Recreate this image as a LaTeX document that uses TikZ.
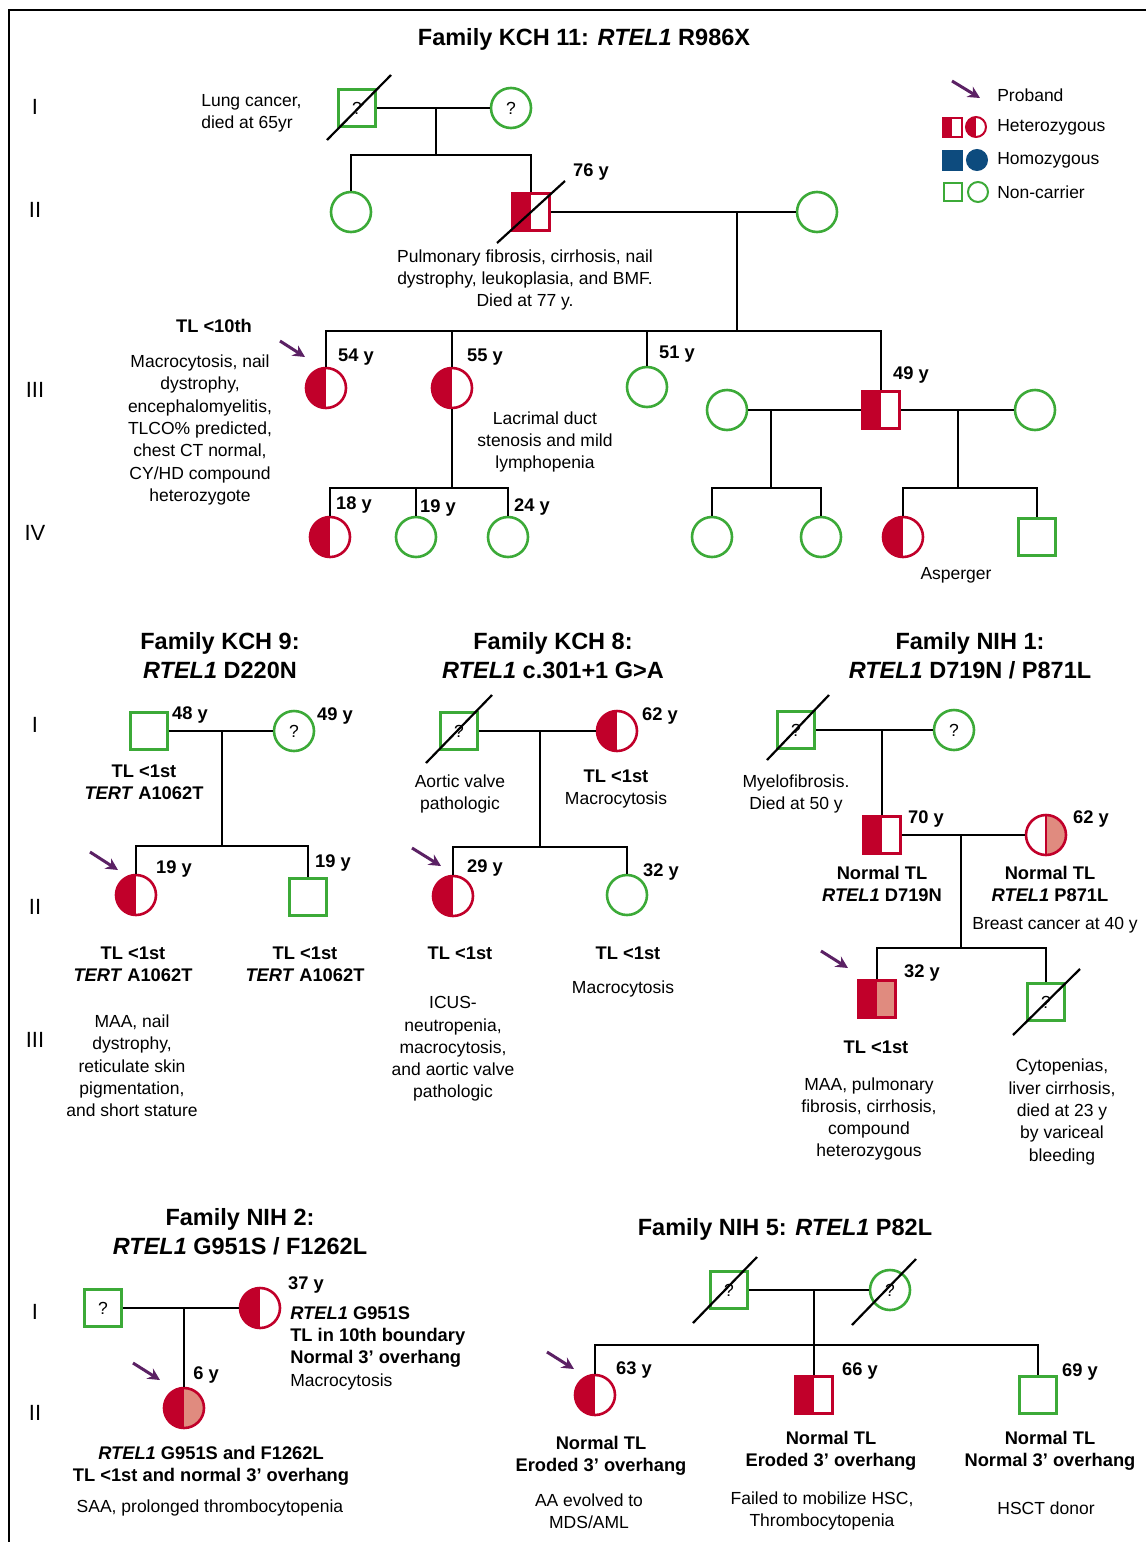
\documentclass[tikz,border=0pt]{standalone}
\usepackage{fontspec}
\setmainfont{Liberation Sans}
\usetikzlibrary{calc}
\usetikzlibrary{positioning}
\usetikzlibrary{arrows.meta}

\definecolor{pedred}{HTML}{C1002A}
\definecolor{pedpink}{HTML}{E08B7F}
\definecolor{pedblue}{HTML}{0D4B7E}
\definecolor{pedgreen}{HTML}{3CAA38}
\definecolor{pedpurple}{HTML}{5B2164}

\newcommand{\bodyfs}{\fontsize{17.5}{22.3}\selectfont}
\newcommand{\boldfs}{\fontsize{18.3}{22.3}\selectfont}
\newcommand{\titlefs}{\fontsize{23.5}{29}\selectfont}
\newcommand{\genfs}{\fontsize{22}{24}\selectfont}
\newcommand{\gene}[1]{\textit{#1}}

\begin{document}
\begin{tikzpicture}[%
  x=1pt, y=-1pt,
  >={Stealth[length=12pt,width=12pt]},
  line width=2.6pt,
  every node/.style={inner sep=0pt, font=\bodyfs},
  male/.style={rectangle, minimum size=37pt, line width=2.6pt},
  female/.style={circle, minimum size=40pt, line width=2.6pt},
  noncarrier/.style={draw=pedgreen},
  hetero/.style={draw=pedred, path picture={%
      \fill[pedred] (path picture bounding box.south west) rectangle (path picture bounding box.north);}},
  compound/.style={draw=pedred, path picture={%
      \fill[pedred] (path picture bounding box.south west) rectangle (path picture bounding box.north);
      \fill[pedpink] (path picture bounding box.south) rectangle (path picture bounding box.north east);}},
  hetlight/.style={draw=pedred, path picture={%
      \fill[pedpink] (path picture bounding box.south) rectangle (path picture bounding box.north east);
      \draw[pedred, line width=1.6pt] (path picture bounding box.south) -- (path picture bounding box.north);}},
  homo/.style={draw=pedblue, fill=pedblue},
  deceased/.style={line width=2.2pt},
  proband/.style={->, draw=pedpurple, line width=3pt},
  age/.style={font=\boldfs\bfseries},
  note/.style={align=center},
  bnote/.style={align=center, font=\boldfs\bfseries},
  famtitle/.style={align=center, font=\titlefs\bfseries},
  gen/.style={font=\genfs}
]

  \useasboundingbox (0,0) rectangle (1146,1542);
  \draw[line width=2.4pt] (9,1542) -- (9,10) -- (1146,10);

  \node[famtitle] (k11title) at (584,39) {Family KCH 11: \gene{RTEL1} R986X};
  \node[gen] (k11g1) at (35,107) {I};
  \node[gen] (k11g2) at (35,210) {II};
  \node[gen] (k11g3) at (35,390) {III};
  \node[gen] (k11g4) at (35,533) {IV};

  \node[male, noncarrier] (k11gf) at (357,108) {?};
  \node[female, noncarrier] (k11gm) at (511,108) {?};
  \node[female, noncarrier] (k11d1) at (351,212) {};
  \node[male, hetero] (k11s1) at (531,212) {};
  \node[female, noncarrier] (k11w1) at (817,212) {};

  \node[female, hetero] (k11c1) at (326,388) {};
  \node[female, hetero] (k11c2) at (452,388) {};
  \node[female, noncarrier] (k11c3) at (647,387) {};
  \node[male, hetero] (k11c4) at (881,410) {};
  \node[female, noncarrier] (k11p1) at (727,410) {};
  \node[female, noncarrier] (k11p2) at (1035,410) {};

  \node[female, hetero] (k11e1) at (330,537) {};
  \node[female, noncarrier] (k11e2) at (416,537) {};
  \node[female, noncarrier] (k11e3) at (508,537) {};
  \node[female, noncarrier] (k11e4) at (712,537) {};
  \node[female, noncarrier] (k11e5) at (821,537) {};
  \node[female, hetero] (k11e6) at (903,537) {};
  \node[male, noncarrier] (k11e7) at (1037,537) {};

  \coordinate (k11m1) at (436,108);
  \coordinate (k11b1) at (436,155);
  \coordinate (k11m2) at (737,212);
  \coordinate (k11b2) at (737,331);
  \coordinate (k11b3) at (452,488);
  \coordinate (k11m4) at (771,410);
  \coordinate (k11b4) at (771,488);
  \coordinate (k11m5) at (958,410);
  \coordinate (k11b5) at (958,488);

  \draw (k11gf) -- (k11gm);
  \draw (k11m1) -- (k11b1);
  \draw (k11d1) |- (k11b1) -| (k11s1);
  \draw (k11s1) -- (k11w1);
  \draw (k11m2) -- (k11b2);
  \draw (k11c1) |- (k11b2) -| (k11c4);
  \draw (k11c2) -- (k11c2 |- k11b2);
  \draw (k11c3) -- (k11c3 |- k11b2);
  \draw (k11p1) -- (k11c4) -- (k11p2);
  \draw (k11c2) -- (k11b3);
  \draw (k11e1) |- (k11b3) -| (k11e3);
  \draw (k11e2) -- (k11e2 |- k11b3);
  \draw (k11m4) -- (k11b4);
  \draw (k11e4) |- (k11b4) -| (k11e5);
  \draw (k11m5) -- (k11b5);
  \draw (k11e6) |- (k11b5) -| (k11e7);

  \draw[deceased] (k11gf) ++(-30,32) -- ++(64,-65);
  \draw[deceased] (k11s1) ++(-34,31) -- ++(68,-62);
  \draw[proband] (k11c1) ++(-46,-47) -- ++(25,16);

  \node[note, anchor=west, align=left] (k11t1) at (200,113) {Lung cancer,\\died at 65yr};
  \node[age] (k11a1) at (591,172) {76 y};
  \node[note] (k11t2) at (525,280) {Pulmonary fibrosis, cirrhosis, nail\\dystrophy, leukoplasia, and BMF.\\Died at 77 y.};
  \node[bnote] (k11t3) at (214,326) {TL <10th};
  \node[note] (k11t4) at (200,430) {Macrocytosis, nail\\dystrophy,\\encephalomyelitis,\\TLCO\% predicted,\\chest CT normal,\\CY/HD compound\\heterozygote};
  \node[age] (k11a2) at (356,357) {54 y};
  \node[age] (k11a3) at (485,357) {55 y};
  \node[age] (k11a4) at (677,354) {51 y};
  \node[age] (k11a5) at (911,375) {49 y};
  \node[note] (k11t5) at (545,442) {Lacrimal duct\\stenosis and mild\\lymphopenia};
  \node[age] (k11a6) at (354,505) {18 y};
  \node[age] (k11a7) at (438,508) {19 y};
  \node[age] (k11a8) at (532,507) {24 y};
  \node[note] (k11t6) at (956,575) {Asperger};

  \coordinate (lgs) at (952,81);
  \coordinate (lge) at (980,98);
  \draw[proband] (lgs) -- (lge);
  \node[male, hetero, minimum size=19pt, line width=2pt] (lg1) at (952,127) {};
  \node[female, hetero, minimum size=20pt, line width=2pt] (lg2) at (976,127) {};
  \node[male, homo, minimum size=19pt, line width=2pt] (lg3) at (952,160) {};
  \node[female, homo, minimum size=20pt, line width=2pt] (lg4) at (977,160) {};
  \node[male, noncarrier, minimum size=18pt, line width=2pt] (lg5) at (953,192) {};
  \node[female, noncarrier, minimum size=20pt, line width=2pt] (lg6) at (978,192) {};
  \node[anchor=west] (lgt1) at (996,95) {Proband};
  \node[anchor=west] (lgt2) at (996,127) {Heterozygous};
  \node[anchor=west] (lgt3) at (996,160) {Homozygous};
  \node[anchor=west] (lgt4) at (996,192) {Non-carrier};

  \node[famtitle] (k9title) at (220,656) {Family KCH 9:\\\gene{RTEL1} D220N};
  \node[gen] (k9g1) at (35,725) {I};
  \node[gen] (k9g2) at (35,907) {II};
  \node[gen] (k9g3) at (35,1040) {III};

  \node[male, noncarrier] (k9f) at (149,731) {};
  \node[female, noncarrier] (k9m) at (294,731) {?};
  \node[female, hetero] (k9c1) at (136,895) {};
  \node[male, noncarrier] (k9c2) at (308,897) {};
  \coordinate (k9m1) at (222,731);
  \coordinate (k9b1) at (222,846);
  \draw (k9f) -- (k9m);
  \draw (k9m1) -- (k9b1);
  \draw (k9c1) |- (k9b1) -| (k9c2);
  \draw[proband] (k9c1) ++(-46,-43) -- ++(28,18);

  \node[age] (k9a1) at (190,715) {48 y};
  \node[age] (k9a2) at (335,716) {49 y};
  \node[age] (k9a3) at (174,869) {19 y};
  \node[age] (k9a4) at (333,863) {19 y};
  \node[bnote] (k9t1) at (144,782) {TL <1st\\\gene{TERT} A1062T};
  \node[bnote] (k9t2) at (133,964) {TL <1st\\\gene{TERT} A1062T};
  \node[bnote] (k9t3) at (305,964) {TL <1st\\\gene{TERT} A1062T};
  \node[note] (k9t4) at (132,1066) {MAA, nail\\dystrophy,\\reticulate skin\\pigmentation,\\and short stature};

  \node[famtitle] (k8title) at (553,656) {Family KCH 8:\\\gene{RTEL1} c.301+1 G>A};
  \node[male, noncarrier] (k8f) at (459,731) {?};
  \node[female, hetero] (k8m) at (617,731) {};
  \node[female, hetero] (k8c1) at (453,896) {};
  \node[female, noncarrier] (k8c2) at (627,895) {};
  \coordinate (k8m1) at (540,731);
  \coordinate (k8b1) at (540,847);
  \draw (k8f) -- (k8m);
  \draw (k8m1) -- (k8b1);
  \draw (k8c1) |- (k8b1) -| (k8c2);
  \draw[deceased] (k8f) ++(-33,32) -- ++(66,-68);
  \draw[proband] (k8c1) ++(-41,-48) -- ++(29,18);

  \node[age] (k8a1) at (660,716) {62 y};
  \node[age] (k8a2) at (485,868) {29 y};
  \node[age] (k8a3) at (661,872) {32 y};
  \node[note] (k8t1) at (460,794) {Aortic valve\\pathologic};
  \node[note] (k8t2) at (616,789) {{\boldfs\bfseries TL <1st}\\Macrocytosis};
  \node[bnote] (k8t3) at (460,953) {TL <1st};
  \node[note] (k8t4) at (453,1049) {ICUS-\\neutropenia,\\macrocytosis,\\and aortic valve\\pathologic};
  \node[bnote] (k8t5) at (628,953) {TL <1st};
  \node[note] (k8t6) at (623,989) {Macrocytosis};

  \node[famtitle] (n1title) at (970,656) {Family NIH 1:\\\gene{RTEL1} D719N / P871L};
  \node[male, noncarrier] (n1gf) at (796,730) {?};
  \node[female, noncarrier] (n1gm) at (954,730) {?};
  \node[male, hetero] (n1f) at (882,835) {};
  \node[female, hetlight] (n1m) at (1046,835) {};
  \node[male, compound] (n1c1) at (877,999) {};
  \node[male, noncarrier] (n1c2) at (1046,1002) {?};
  \coordinate (n1m1) at (882,730);
  \coordinate (n1m2) at (961,835);
  \coordinate (n1b2) at (961,948);
  \draw (n1gf) -- (n1gm);
  \draw (n1m1) -- (n1f);
  \draw (n1f) -- (n1m);
  \draw (n1m2) -- (n1b2);
  \draw (n1c1) |- (n1b2) -| (n1c2);
  \draw[deceased] (n1gf) ++(-29,30) -- ++(62,-65);
  \draw[deceased] (n1c2) ++(-33,33) -- ++(67,-66);
  \draw[proband] (n1c1) ++(-56,-48) -- ++(27,17);

  \node[age] (n1a1) at (926,819) {70 y};
  \node[age] (n1a2) at (1091,819) {62 y};
  \node[age] (n1a3) at (922,973) {32 y};
  \node[note] (n1t1) at (796,794) {Myelofibrosis.\\Died at 50 y};
  \node[bnote] (n1t2) at (882,884) {Normal TL\\\gene{RTEL1} D719N};
  \node[bnote] (n1t3) at (1050,884) {Normal TL\\\gene{RTEL1} P871L};
  \node[note] (n1t4) at (1055,925) {Breast cancer at 40 y};
  \node[bnote] (n1t5) at (876,1047) {TL <1st};
  \node[note] (n1t6) at (869,1119) {MAA, pulmonary\\fibrosis, cirrhosis,\\compound\\heterozygous};
  \node[note] (n1t7) at (1062,1112) {Cytopenias,\\liver cirrhosis,\\died at 23 y\\by variceal\\bleeding};

  \node[famtitle] (n2title) at (240,1232) {Family NIH 2:\\\gene{RTEL1} G951S / F1262L};
  \node[gen] (n2g1) at (35,1312) {I};
  \node[gen] (n2g2) at (35,1413) {II};
  \node[male, noncarrier] (n2f) at (103,1308) {?};
  \node[female, hetero] (n2m) at (260,1308) {};
  \node[female, compound] (n2c) at (184,1408) {};
  \coordinate (n2m1) at (184,1308);
  \draw (n2f) -- (n2m);
  \draw (n2m1) -- (n2c);
  \draw[proband] (n2c) ++(-51,-45) -- ++(27,17);

  \node[age] (n2a1) at (306,1285) {37 y};
  \node[age] (n2a2) at (206,1375) {6 y};
  \node[anchor=west, align=left] (n2t1) at (289,1348) {{\boldfs\bfseries\gene{RTEL1} G951S}\\{\boldfs\bfseries TL in 10th boundary}\\{\boldfs\bfseries Normal 3’ overhang}\\Macrocytosis};
  \node[bnote] (n2t2) at (211,1466) {\gene{RTEL1} G951S and F1262L\\TL <1st and normal 3’ overhang};
  \node[note] (n2t3) at (210,1508) {SAA, prolonged thrombocytopenia};

  \node[famtitle] (n5title) at (785,1229) {Family NIH 5: \gene{RTEL1} P82L};
  \node[male, noncarrier] (n5gf) at (729,1290) {?};
  \node[female, noncarrier] (n5gm) at (890,1290) {?};
  \node[female, hetero] (n5c1) at (595,1395) {};
  \node[male, hetero] (n5c2) at (814,1395) {};
  \node[male, noncarrier] (n5c3) at (1038,1395) {};
  \coordinate (n5m1) at (814,1290);
  \coordinate (n5b1) at (814,1345);
  \draw (n5gf) -- (n5gm);
  \draw (n5m1) -- (n5b1);
  \draw (n5c1) |- (n5b1) -| (n5c3);
  \draw (n5c2) -- (n5b1);
  \draw[deceased] (n5gf) ++(-36,33) -- ++(64,-66);
  \draw[deceased] (n5gm) ++(-38,35) -- ++(64,-66);
  \draw[proband] (n5c1) ++(-48,-43) -- ++(27,17);

  \node[age] (n5a1) at (634,1370) {63 y};
  \node[age] (n5a2) at (860,1371) {66 y};
  \node[age] (n5a3) at (1080,1372) {69 y};
  \node[bnote] (n5t1) at (601,1456) {Normal TL\\Eroded 3’ overhang};
  \node[bnote] (n5t2) at (831,1451) {Normal TL\\Eroded 3’ overhang};
  \node[bnote] (n5t3) at (1050,1451) {Normal TL\\Normal 3’ overhang};
  \node[note] (n5t4) at (589,1511) {AA evolved to\\MDS/AML};
  \node[note] (n5t5) at (822,1511) {Failed to mobilize HSC,\\Thrombocytopenia};
  \node[note] (n5t6) at (1046,1508) {HSCT donor};

\end{tikzpicture}
\end{document}
